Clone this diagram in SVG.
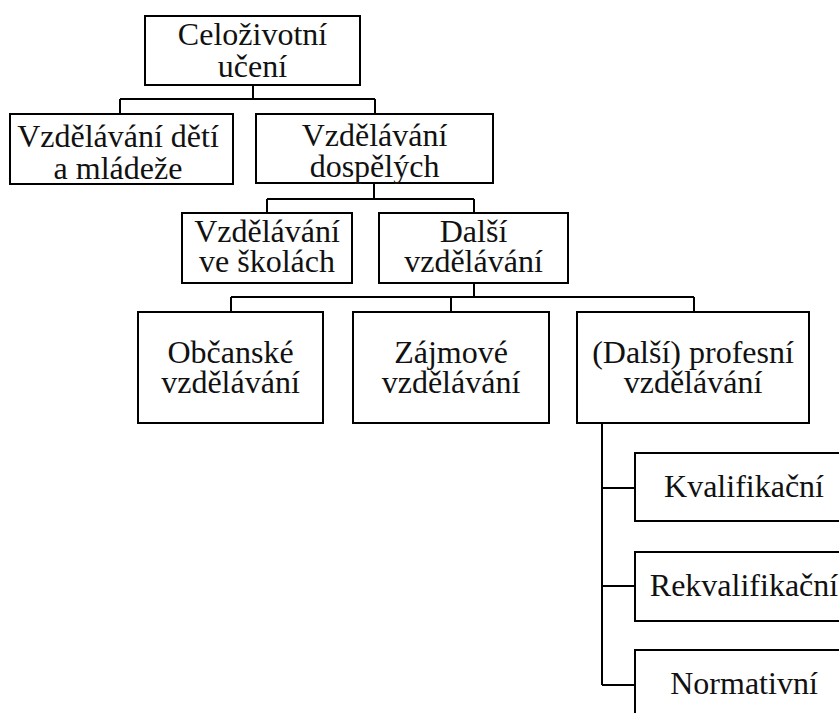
<svg xmlns="http://www.w3.org/2000/svg" width="839" height="713" viewBox="0 0 839 713">
<style>
  .box { fill: #ffffff; stroke: #000000; stroke-width: 2; }
  .con { fill: none; stroke: #000000; stroke-width: 2; }
</style>
<rect x="0" y="0" width="839" height="713" fill="#ffffff"/>
<g id="connectors" class="con">
  <path d="M253,85 V99 M120,99 H375 M120,99 V114 M375,99 V114"/>
  <path d="M374,183 V199 M267,199 H474 M267,199 V213 M474,199 V213"/>
  <path d="M474,283 V297 M231,297 H694 M231,297 V312 M451,297 V312 M694,297 V312"/>
  <path d="M602,423 V685 M602,488 H635 M602,586 H635 M602,685 H635"/>
</g>
<g font-family="Liberation Serif, Times New Roman, serif" font-size="32" fill="#111111" text-anchor="middle">
<g id="celozivotni-uceni">
  <rect class="box" x="145" y="16" width="215" height="69"/>
  <text x="252.5" y="45">Celoživotní</text>
  <text x="252.5" y="77">učení</text>
</g>
<g id="vzdelavani-deti">
  <rect class="box" x="10" y="114" width="223" height="70"/>
  <text x="118" y="147">Vzdělávání dětí</text>
  <text x="118" y="179">a mládeže</text>
</g>
<g id="vzdelavani-dospelych">
  <rect class="box" x="256" y="114" width="237" height="69"/>
  <text x="374.5" y="146">Vzdělávání</text>
  <text x="374.5" y="177">dospělých</text>
</g>
<g id="vzdelavani-ve-skolach">
  <rect class="box" x="182" y="213" width="170" height="70"/>
  <text x="267" y="242">Vzdělávání</text>
  <text x="267" y="272">ve školách</text>
</g>
<g id="dalsi-vzdelavani">
  <rect class="box" x="379" y="213" width="189" height="70"/>
  <text x="473.5" y="242">Další</text>
  <text x="473.5" y="272">vzdělávání</text>
</g>
<g id="obcanske">
  <rect class="box" x="138" y="312" width="185" height="111"/>
  <text x="230.5" y="363">Občanské</text>
  <text x="230.5" y="393">vzdělávání</text>
</g>
<g id="zajmove">
  <rect class="box" x="353" y="312" width="196" height="111"/>
  <text x="451" y="363">Zájmové</text>
  <text x="451" y="393">vzdělávání</text>
</g>
<g id="profesni">
  <rect class="box" x="577" y="312" width="232" height="111"/>
  <text x="693" y="363">(Další) profesní</text>
  <text x="693" y="393">vzdělávání</text>
</g>
<g id="kvalifikacni">
  <rect class="box" x="635" y="453" width="218" height="68"/>
  <text x="744" y="497">Kvalifikační</text>
</g>
<g id="rekvalifikacni">
  <rect class="box" x="635" y="552" width="218" height="69"/>
  <text x="744" y="596">Rekvalifikační</text>
</g>
<g id="normativni">
  <rect class="box" x="635" y="650" width="218" height="69"/>
  <text x="744" y="694">Normativní</text>
</g>
</g>
</svg>
